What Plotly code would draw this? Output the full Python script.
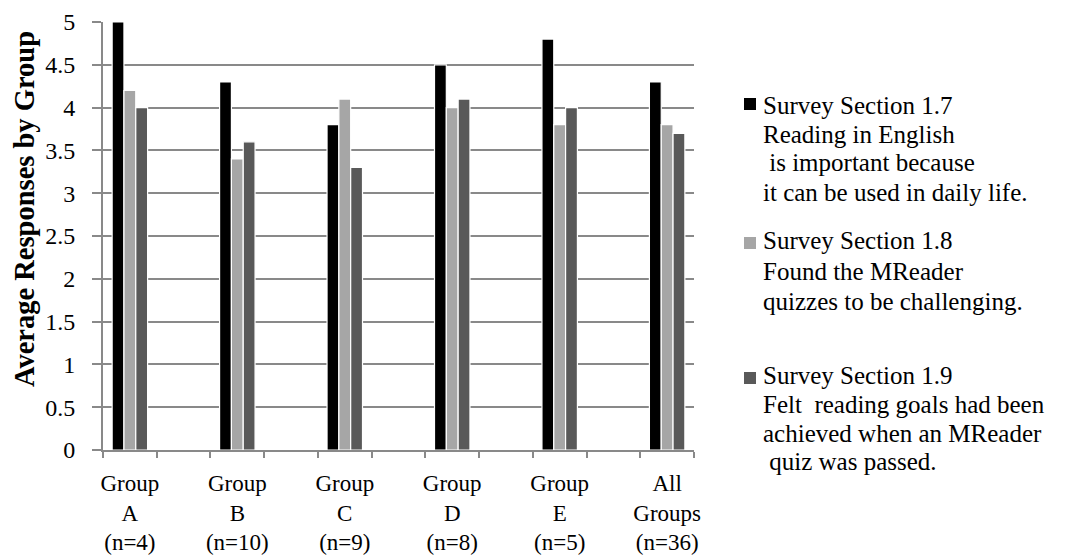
import numpy as np
import plotly.graph_objects as go

# ---- data -------------------------------------------------------------
groups = [
    "Group<br>A<br>(n=4)",
    "Group<br>B<br>(n=10)",
    "Group<br>C<br>(n=9)",
    "Group<br>D<br>(n=8)",
    "Group<br>E<br>(n=5)",
    "All<br>Groups<br>(n=36)",
]
section_1_7 = [5.0, 4.3, 3.8, 4.5, 4.8, 4.3]
section_1_8 = [4.2, 3.4, 4.1, 4.0, 3.8, 3.8]
section_1_9 = [4.0, 3.6, 3.3, 4.1, 4.0, 3.7]
series_names = ["Survey Section 1.7", "Survey Section 1.8", "Survey Section 1.9"]
y_tick_values = [0, 0.5, 1, 1.5, 2, 2.5, 3, 3.5, 4, 4.5, 5]

# legend texts (one list of lines per series)
legend_lines = [
    ["Survey Section 1.7", "Reading in English", "\u00a0is important because",
     "it can be used in daily life."],
    ["Survey Section 1.8", "Found the MReader", "quizzes to be challenging."],
    ["Survey Section 1.9", "Felt \u00a0reading goals had been",
     "achieved when an MReader", "\u00a0quiz was passed."],
]

# ---- styling ----------------------------------------------------------
W, H = 1074, 558
PL, PR, PT, PB = 103, 694, 22, 450          # plot area in pixels
FONT = "Liberation Serif, Times New Roman, serif"
GREY = "#898989"
colors = ["#000000", "#a6a6a6", "#595959"]

# legend layout (pixel baselines of each line, square top)
legend_baselines = [[113, 143, 171, 200], [248, 279, 309], [383, 412, 441, 470]]
legend_square_top = [98, 237, 372]


def px_x(px):
    return (px - PL) / (PR - PL)


def px_y(py):
    return (PB - py) / (PB - PT)


# each group takes a slot of two category widths, leaving an empty slot between
x_pos = np.arange(len(groups)) * 2

fig = go.Figure()
for name, vals, col in zip(series_names, [section_1_7, section_1_8, section_1_9], colors):
    fig.add_trace(go.Bar(
        x=x_pos, y=vals, name=name,
        marker=dict(color=col, line=dict(color="white", width=1.2)),
        showlegend=False,
    ))

annotations = []
shapes = []
for i, (lines, bases) in enumerate(zip(legend_lines, legend_baselines)):
    top = legend_square_top[i]
    shapes.append(dict(
        type="rect", xref="paper", yref="paper",
        x0=px_x(744), x1=px_x(756), y0=px_y(top + 12), y1=px_y(top),
        fillcolor=colors[i], line=dict(width=0),
    ))
    for line, base in zip(lines, bases):
        annotations.append(dict(
            text=line, xref="paper", yref="paper",
            x=px_x(761), y=px_y(base - 8), xanchor="left", yanchor="middle",
            showarrow=False, font=dict(family=FONT, size=25, color="black"),
        ))

annotations.append(dict(
    text="<b>Average Responses by Group</b>", xref="paper", yref="paper",
    x=px_x(24), y=px_y(209), xanchor="center", yanchor="middle",
    textangle=-90, showarrow=False,
    font=dict(family=FONT, size=28.5, color="black"),
))

fig.update_layout(
    width=W, height=H,
    margin=dict(l=PL, r=W - PR, t=PT, b=H - PB, pad=0, autoexpand=False),
    paper_bgcolor="white", plot_bgcolor="white",
    barmode="group", bargap=0.67, bargroupgap=0,
    font=dict(family=FONT, size=24, color="black"),
    annotations=annotations, shapes=shapes,
    xaxis=dict(
        automargin=False,
        range=[-0.5, 2 * len(groups) - 1.5],
        tickmode="array", tickvals=x_pos, ticktext=groups,
        ticks="", showgrid=False, zeroline=False,
        showline=True, linecolor=GREY, linewidth=2,
        tickfont=dict(family=FONT, size=23, color="black"),
        ticklabelstandoff=11,
        minor=dict(ticks="outside", tick0=-0.5, dtick=1, ticklen=6,
                   tickcolor=GREY, tickwidth=2, showgrid=False),
    ),
    yaxis=dict(
        automargin=False,
        range=[0, 5], tickmode="array", tickvals=y_tick_values,
        ticks="outside", ticklen=9, tickcolor=GREY, tickwidth=2,
        showgrid=True, gridcolor=GREY, gridwidth=2, zeroline=False,
        showline=True, linecolor=GREY, linewidth=2,
        tickfont=dict(family=FONT, size=24, color="black"),
        ticklabelstandoff=12,
    ),
)

fig.write_html("out.html")
